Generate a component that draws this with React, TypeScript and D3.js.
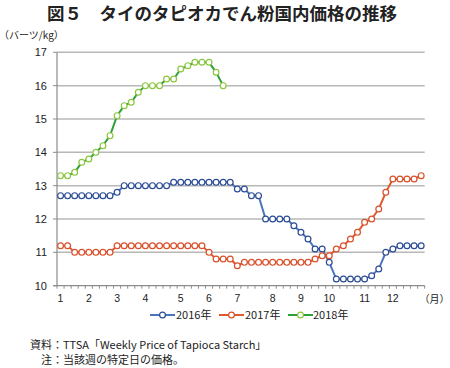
import React from "react";
import * as d3 from "d3";

const years = ["2016年", "2017年", "2018年"];
const lineColors = ["#4a74c0", "#dc5a2e", "#2ea03a"];
const markerColors = ["#2c4c94", "#d9502a", "#8cc63f"];

const s2016 = [
  12.7, 12.7, 12.7, 12.7, 12.7, 12.7, 12.7, 12.7, 12.8, 13.0, 13.0, 13.0, 13.0,
  13.0, 13.0, 13.0, 13.1, 13.1, 13.1, 13.1, 13.1, 13.1, 13.1, 13.1, 13.1, 12.9,
  12.9, 12.7, 12.7, 12.0, 12.0, 12.0, 12.0, 11.8, 11.6, 11.4, 11.1, 11.1, 10.7,
  10.2, 10.2, 10.2, 10.2, 10.2, 10.3, 10.5, 11.0, 11.1, 11.2, 11.2, 11.2, 11.2,
];
const s2017 = [
  11.2, 11.2, 11.0, 11.0, 11.0, 11.0, 11.0, 11.0, 11.2, 11.2, 11.2, 11.2, 11.2,
  11.2, 11.2, 11.2, 11.2, 11.2, 11.2, 11.2, 11.2, 11.0, 10.8, 10.8, 10.8, 10.6,
  10.7, 10.7, 10.7, 10.7, 10.7, 10.7, 10.7, 10.7, 10.7, 10.7, 10.8, 10.9, 10.9,
  11.1, 11.2, 11.4, 11.6, 11.9, 12.0, 12.3, 12.8, 13.2, 13.2, 13.2, 13.2, 13.3,
];
const s2018 = [
  13.3, 13.3, 13.4, 13.7, 13.8, 14.0, 14.2, 14.5, 15.1, 15.4, 15.5, 15.8, 16.0,
  16.0, 16.0, 16.2, 16.2, 16.5, 16.6, 16.7, 16.7, 16.7, 16.4, 16.0,
];
const seriesList = [s2016, s2017, s2018];

const weekCount = 52;
const monthLabels = ["1", "2", "3", "4", "5", "6", "7", "8", "9", "10", "11", "12"];
const monthStartWeeks = [0, 4, 8, 12, 17, 21, 25, 30, 34, 38, 43, 47];
const yTicks = [10, 11, 12, 13, 14, 15, 16, 17];

const title = "図５　タイのタピオカでん粉国内価格の推移";
const unitLabel = "（バーツ/kg）";
const monthUnit = "（月）";
const sourceNote = "資料：TTSA「Weekly Price of Tapioca Starch」";
const note = "注：当該週の特定日の価格。";

export default function App() {
  const W = 450;
  const H = 368;
  const left = 57;
  const right = 424.7;
  const top = 52.3;
  const bottom = 285.7;

  const weeks = d3.range(weekCount);
  const x = d3.scaleBand<number>().domain(weeks).range([left, right]).padding(0);
  const bw = x.bandwidth();
  const cx = (i: number) => (x(i) as number) + bw / 2;
  const y = d3.scaleLinear().domain([10, 17]).range([bottom, top]);

  const line = d3
    .line<number>()
    .x((_, i) => cx(i))
    .y((d) => y(d));

  const jp = "'Noto Sans CJK JP', 'Noto Sans', sans-serif";
  const num = "'Liberation Sans', Arial, sans-serif";

  const legendItems = [
    { lx: 150, tx: 176 },
    { lx: 219, tx: 245 },
    { lx: 288, tx: 313 },
  ];

  return (
    <svg
      width={W}
      height={H}
      style={{ position: "absolute", left: 0, top: 0, background: "#fff" }}
    >
      <text x={222} y={20} textAnchor="middle" fontFamily={jp} fontWeight={700} fontSize={17.5} fill="#222">
        {title}
      </text>
      <text x={-1} y={39} fontFamily={jp} fontSize={10} fill="#222">
        {unitLabel}
      </text>

      {/* grid */}
      {yTicks.map((t) =>
        t === 10 ? null : (
          <line key={t} x1={left} x2={right} y1={y(t)} y2={y(t)} stroke="#b8b8b8" strokeWidth={1.5} />
        )
      )}
      {/* y axis */}
      <line x1={left} x2={left} y1={top} y2={bottom} stroke="#8c8c8c" strokeWidth={1.2} />
      {yTicks.map((t) => (
        <g key={"yt" + t}>
          <line x1={left - 4} x2={left} y1={y(t)} y2={y(t)} stroke="#8c8c8c" strokeWidth={1} />
          <text x={47} y={y(t) + 4} textAnchor="end" fontFamily={num} fontSize={11} fill="#222">
            {t}
          </text>
        </g>
      ))}
      {/* x axis */}
      <line x1={left - 4} x2={right} y1={bottom} y2={bottom} stroke="#8c8c8c" strokeWidth={1.2} />
      {d3.range(weekCount + 1).map((i) => {
        const px = left + i * bw;
        return <line key={"xt" + i} x1={px} x2={px} y1={bottom} y2={bottom + 3} stroke="#8c8c8c" strokeWidth={1} />;
      })}
      {monthLabels.map((m, k) => (
        <text key={"m" + m} x={cx(monthStartWeeks[k])} y={bottom + 16} textAnchor="middle" fontFamily={num} fontSize={10.5} fill="#222">
          {m}
        </text>
      ))}
      <text x={449.5} y={bottom + 17} textAnchor="end" fontFamily={jp} fontSize={10} fill="#222">
        {monthUnit}
      </text>

      {/* series */}
      {seriesList.map((s, k) => (
        <g key={"s" + k}>
          <path d={line(s) || ""} fill="none" stroke={lineColors[k]} strokeWidth={2} />
          {s.map((v, i) => (
            <circle key={i} cx={cx(i)} cy={y(v)} r={2.9} fill="#fff" stroke={markerColors[k]} strokeWidth={1.2} />
          ))}
        </g>
      ))}

      {/* legend */}
      {years.map((yr, k) => (
        <g key={"lg" + k}>
          <line x1={legendItems[k].lx} x2={legendItems[k].lx + 25} y1={315} y2={315} stroke={lineColors[k]} strokeWidth={2} />
          <circle cx={legendItems[k].lx + 12.5} cy={315} r={2.9} fill="#fff" stroke={markerColors[k]} strokeWidth={1.2} />
          <text x={legendItems[k].tx} y={319} fontFamily={jp} fontSize={11} fill="#222">
            {yr}
          </text>
        </g>
      ))}

      <text x={30} y={349} fontFamily={jp} fontSize={11} fill="#222">
        {sourceNote}
      </text>
      <text x={41} y={364} fontFamily={jp} fontSize={11} fill="#222">
        {note}
      </text>
    </svg>
  );
}
